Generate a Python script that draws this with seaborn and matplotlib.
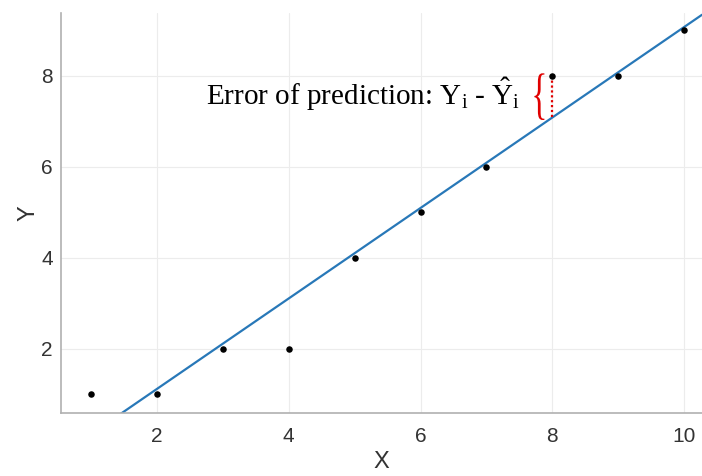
import numpy as np
import pandas as pd
import matplotlib
matplotlib.use("Agg")
import matplotlib.pyplot as plt
import seaborn as sns
from matplotlib.textpath import TextPath
from matplotlib.patches import PathPatch
from matplotlib.font_manager import FontProperties
from matplotlib.transforms import Affine2D

# Observed data
x_vals = [1, 2, 3, 4, 5, 6, 7, 8, 9, 10]
y_vals = [1, 1, 2, 2, 4, 5, 6, 8, 8, 9]
x_ticks = [2, 4, 6, 8, 10]
y_ticks = [2, 4, 6, 8]
highlight_x = 8

sns.set_theme(style="white")
plt.rcParams["font.family"] = ["Liberation Sans", "DejaVu Sans"]
plt.rcParams["mathtext.fontset"] = "custom"
plt.rcParams["mathtext.rm"] = "Liberation Serif"
plt.rcParams["mathtext.it"] = "Liberation Serif:italic"

df = pd.DataFrame({"X": x_vals, "Y": y_vals})

fig = plt.figure(figsize=(7.02, 4.76), dpi=100)
ax = fig.add_axes([61 / 702, 63 / 476, 641 / 702, 400 / 476])

xlim = (0.545, 10.27)
ylim = (0.593, 9.38)
ax.set_xlim(*xlim)
ax.set_ylim(*ylim)

# Least-squares fit
slope, intercept = np.polyfit(df["X"], df["Y"], 1)
fit = pd.DataFrame({"X": np.linspace(xlim[0], xlim[1], 50)})
fit["Y"] = slope * fit["X"] + intercept

sns.lineplot(data=fit, x="X", y="Y", ax=ax, color="#2878b8", linewidth=1.6, zorder=2)
sns.scatterplot(data=df, x="X", y="Y", ax=ax, color="black", s=22, linewidth=0, zorder=3)

# Residual at the highlighted point
y_obs = df.loc[df["X"] == highlight_x, "Y"].iloc[0]
y_hat = slope * highlight_x + intercept
ax.plot([highlight_x, highlight_x], [y_hat, y_obs], color="#e00000",
        linestyle=(0, (1, 1.2)), linewidth=1.6, zorder=2.5)

# Slim curly brace spanning the residual, built from a glyph outline
brace = TextPath((0, 0), "{", size=1, prop=FontProperties(family="Liberation Serif"))
bb = brace.get_extents()
(px, py_lo), (_, py_hi) = ax.transData.transform([(highlight_x, y_hat), (highlight_x, y_obs)])
box_h = (py_hi - py_lo) + 5
box_w = 10
right = px - 8
bottom = py_lo - 2.5
tr = (Affine2D()
      .translate(-bb.x0, -bb.y0)
      .scale(box_w / bb.width, box_h / bb.height)
      .translate(right - box_w, bottom))
ax.add_patch(PathPatch(tr.transform_path(brace), transform=None,
                       facecolor="#e00000", edgecolor="none", zorder=3))

ax.text(2.74, 7.6, r"Error of prediction: $\mathregular{Y_i}$ - $\mathregular{\hat{Y}_i}$",
        fontsize=21, family="Liberation Serif", color="black", ha="left", va="center")

ax.set_xticks(x_ticks)
ax.set_yticks(y_ticks)
ax.grid(True, color="#ececec", linewidth=0.8)
ax.set_axisbelow(True)

for side in ["top", "right"]:
    ax.spines[side].set_visible(False)
for side in ["left", "bottom"]:
    ax.spines[side].set_color("#b0b0b0")
    ax.spines[side].set_linewidth(1.2)

ax.tick_params(axis="both", direction="in", length=5, width=1, color="#b0b0b0",
               labelsize=15, labelcolor="#333333", pad=6)
ax.tick_params(axis="x", pad=10)
ax.set_xlabel("X", fontsize=17, color="#333333", labelpad=4)
ax.set_ylabel("Y", fontsize=17, color="#333333", labelpad=1)

fig.savefig("out.png", dpi=100)
